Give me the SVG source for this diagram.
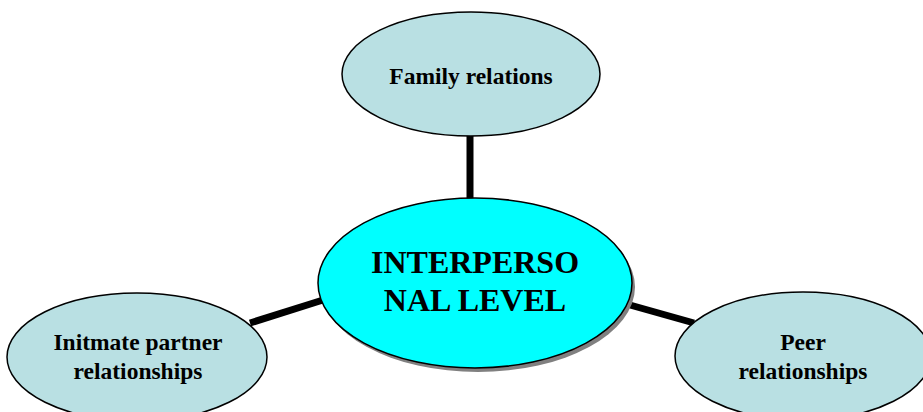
<svg xmlns="http://www.w3.org/2000/svg" width="923" height="412" viewBox="0 0 923 412">
<style>
.node{fill:#b9e0e3;stroke:#000;stroke-width:1.5}
.t{font-family:"Liberation Serif",serif;font-weight:bold;font-size:23.5px;fill:#000;text-anchor:middle}
.big{font-size:32px}
.conn{stroke:#000;stroke-width:7;fill:none}
</style>
<rect width="923" height="412" fill="#fff"/>
<g id="connectors">
<line class="conn" x1="470" y1="135" x2="470" y2="199"/>
<line class="conn" x1="250" y1="323" x2="323" y2="300"/>
<line class="conn" x1="630" y1="305" x2="694" y2="323"/>
</g>
<g id="family">
<ellipse class="node" cx="471" cy="74" rx="129" ry="62"/>
<text class="t" x="471" y="84">Family relations</text>
</g>
<g id="intimate">
<ellipse class="node" cx="137" cy="357" rx="130" ry="64"/>
<text class="t" x="138" y="350">Initmate partner</text>
<text class="t" x="138" y="379">relationships</text>
</g>
<g id="peer">
<ellipse class="node" cx="803" cy="356" rx="128" ry="64"/>
<text class="t" x="803" y="350">Peer</text>
<text class="t" x="803" y="379">relationships</text>
</g>
<g id="interpersonal">
<ellipse cx="478" cy="287" rx="157" ry="85" fill="#808080"/>
<ellipse cx="475" cy="283" rx="157" ry="85" fill="#00ffff" stroke="#000" stroke-width="1.5"/>
<text class="t big" x="475" y="273">INTERPERSO</text>
<text class="t big" x="475" y="311">NAL LEVEL</text>
</g>
</svg>
